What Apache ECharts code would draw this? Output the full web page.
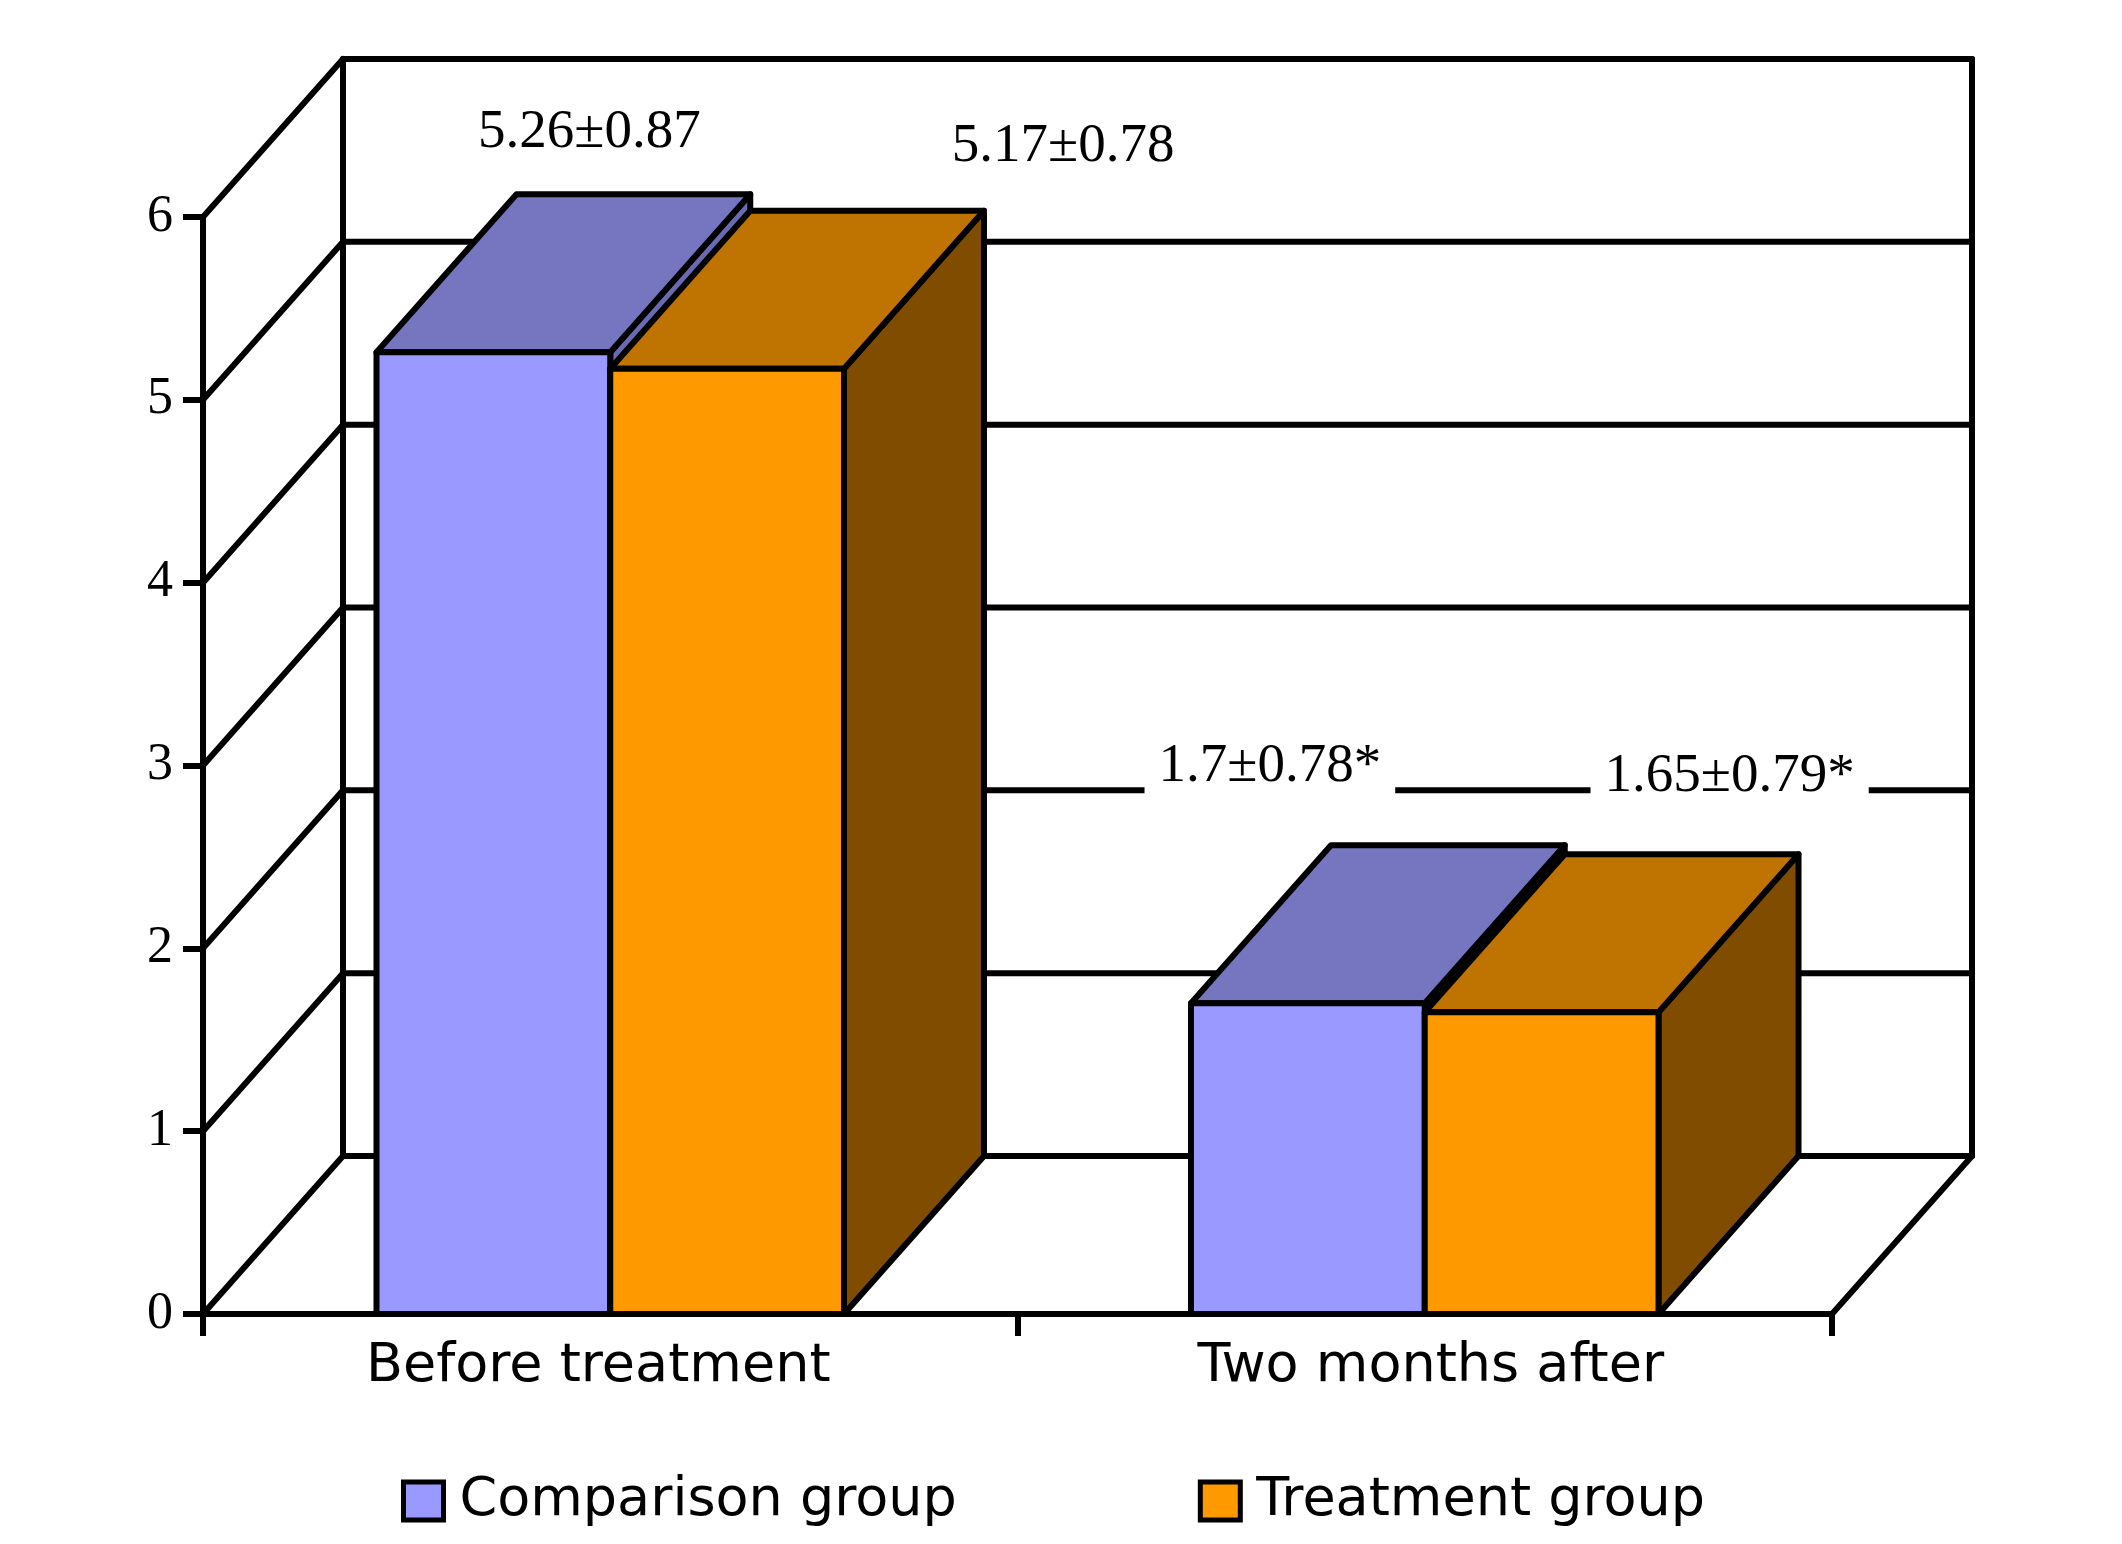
<!DOCTYPE html>
<html>
<head>
<meta charset="utf-8">
<script src="https://cdn.jsdelivr.net/npm/echarts@6/dist/echarts.min.js"></script>
<style>
  html, body { margin: 0; padding: 0; background: #fff; }
  #chart { width: 2122px; height: 1544px; }
</style>
</head>
<body>
<div id="chart"></div>
<script>
// ---- data ----
const CATEGORIES = ['Before treatment', 'Two months after'];
const SERIES_NAMES = ['Comparison group', 'Treatment group'];
const COMPARISON_MEAN = [5.26, 1.7];
const COMPARISON_SD = [0.87, 0.78];
const TREATMENT_MEAN = [5.17, 1.65];
const TREATMENT_SD = [0.78, 0.79];
const SIG_MARK = ['', '*'];
const Y_TICKS = [0, 1, 2, 3, 4, 5, 6];

// ---- style constants ----
const DEPTH_X = 140, DEPTH_Y = -158;
const BAR_FRAC = 0.287;
const LINE_W = 6;
const COLORS = [
  { front: '#9999FF', top: '#7575C0', side: '#6A6AB2' },
  { front: '#FF9900', top: '#BF7300', side: '#804D00' }
];
// label centre offsets relative to the back-top centre of each bar (pixels)
const LABEL_OFFSETS = [
  [[-44, -62], [-178, -79]],
  [[196, -64], [48, -78]]
];

function fmtLabel(mean, sd, mark) {
  return String(mean) + '\u00B1' + sd.toFixed(2) + mark;
}

function makeBarRender(s) {
  return function (params, api) {
    const cat = api.value(0), val = api.value(1), sd = api.value(2);
    const band = api.size([1, 0])[0];
    const bw = band * BAR_FRAC;
    const c = api.coord([cat, val]);
    const b = api.coord([cat, 0]);
    const x0 = s === 0 ? c[0] - bw : c[0];
    const x1 = x0 + bw;
    const yt = c[1], yb = b[1];
    const st = { stroke: '#000', lineWidth: LINE_W, lineJoin: 'round' };
    const col = COLORS[s];
    const off = LABEL_OFFSETS[s][cat];
    const cx = (x0 + x1) / 2 + DEPTH_X + off[0];
    const cy = yt + DEPTH_Y + off[1];
    return {
      type: 'group',
      children: [
        { type: 'polygon', shape: { points: [[x1, yb], [x1 + DEPTH_X, yb + DEPTH_Y], [x1 + DEPTH_X, yt + DEPTH_Y], [x1, yt]] },
          style: Object.assign({ fill: col.side }, st) },
        { type: 'polygon', shape: { points: [[x0, yt], [x0 + DEPTH_X, yt + DEPTH_Y], [x1 + DEPTH_X, yt + DEPTH_Y], [x1, yt]] },
          style: Object.assign({ fill: col.top }, st) },
        { type: 'rect', shape: { x: x0, y: yt, width: bw, height: yb - yt },
          style: Object.assign({ fill: col.front }, st) },
        { type: 'text', x: cx, y: cy, z2: 50,
          style: { text: fmtLabel(val, sd, SIG_MARK[cat]), fill: '#000', fontSize: 55,
                   fontFamily: 'Liberation Serif', align: 'center', verticalAlign: 'middle',
                   backgroundColor: '#fff', padding: [2, 14] } }
      ]
    };
  };
}

function wallRender(params, api) {
  const v = api.value(0);
  const L = params.coordSys.x;
  const R = params.coordSys.x + params.coordSys.width;
  const y = api.coord([0, v])[1];
  const ls = { stroke: '#000', lineWidth: LINE_W, lineCap: 'round' };
  const children = [
    { type: 'line', shape: { x1: L, y1: y, x2: L + DEPTH_X, y2: y + DEPTH_Y }, style: ls },
    { type: 'line', shape: { x1: L + DEPTH_X, y1: y + DEPTH_Y, x2: R + DEPTH_X, y2: y + DEPTH_Y }, style: ls }
  ];
  if (params.dataIndex === 0) {
    const yTop = api.coord([0, Y_TICKS[Y_TICKS.length - 1]])[1];
    children.push(
      { type: 'line', shape: { x1: L + DEPTH_X, y1: y + DEPTH_Y, x2: L + DEPTH_X, y2: yTop + DEPTH_Y }, style: ls },
      { type: 'line', shape: { x1: R + DEPTH_X, y1: y + DEPTH_Y, x2: R + DEPTH_X, y2: yTop + DEPTH_Y }, style: ls },
      { type: 'line', shape: { x1: R, y1: y, x2: R + DEPTH_X, y2: y + DEPTH_Y }, style: ls }
    );
  }
  return { type: 'group', children: children };
}

const chart = echarts.init(document.getElementById('chart'), null, { renderer: 'canvas' });
chart.setOption({
  backgroundColor: '#fff',
  animation: false,
  grid: { left: 203, right: 290, top: 217, bottom: 230, containLabel: false },
  legend: {
    data: SERIES_NAMES,
    left: 396, top: 1469,
    icon: 'rect', itemWidth: 40, itemHeight: 38, itemGap: 241,
    itemStyle: { borderColor: '#000', borderWidth: 5 },
    textStyle: { fontSize: 54, fontFamily: 'DejaVu Sans', color: '#000', padding: [0, 0, 0, 11], lineHeight: 40 }
  },
  xAxis: {
    type: 'category', data: CATEGORIES, boundaryGap: true,
    axisLine: { lineStyle: { color: '#000', width: LINE_W } },
    axisTick: { show: true, length: 22, lineStyle: { color: '#000', width: LINE_W } },
    axisLabel: {
      fontSize: 54, fontFamily: 'DejaVu Sans', color: '#000', margin: 26,
      formatter: function (v, i) { return i === 0 ? '{a|' + v + '}' : '{b|' + v + '}'; },
      rich: {
        a: { fontSize: 54, fontFamily: 'DejaVu Sans', color: '#000', padding: [0, 24, 0, 0] },
        b: { fontSize: 54, fontFamily: 'DejaVu Sans', color: '#000', padding: [0, 0, 0, 12] }
      }
    },
    splitLine: { show: false }
  },
  yAxis: {
    type: 'value', min: 0, max: 6, interval: 1,
    axisLine: { show: true, lineStyle: { color: '#000', width: LINE_W } },
    axisTick: { show: true, length: 20, lineStyle: { color: '#000', width: LINE_W } },
    axisLabel: { fontSize: 52, fontFamily: 'Liberation Serif', color: '#000', margin: 30 },
    splitLine: { show: false }
  },
  series: [
    { type: 'custom', name: 'wall', renderItem: wallRender, clip: false, z: 1,
      data: Y_TICKS.map(v => [v]), encode: { y: 0 }, silent: true, legendHoverLink: false },
    { type: 'custom', name: SERIES_NAMES[0], renderItem: makeBarRender(0), clip: false, z: 3,
      itemStyle: { color: COLORS[0].front, borderColor: '#000', borderWidth: 5 },
      data: CATEGORIES.map((c, i) => [i, COMPARISON_MEAN[i], COMPARISON_SD[i]]), encode: { x: 0, y: 1 } },
    { type: 'custom', name: SERIES_NAMES[1], renderItem: makeBarRender(1), clip: false, z: 4,
      itemStyle: { color: COLORS[1].front, borderColor: '#000', borderWidth: 5 },
      data: CATEGORIES.map((c, i) => [i, TREATMENT_MEAN[i], TREATMENT_SD[i]]), encode: { x: 0, y: 1 } }
  ]
});
</script>
</body>
</html>
